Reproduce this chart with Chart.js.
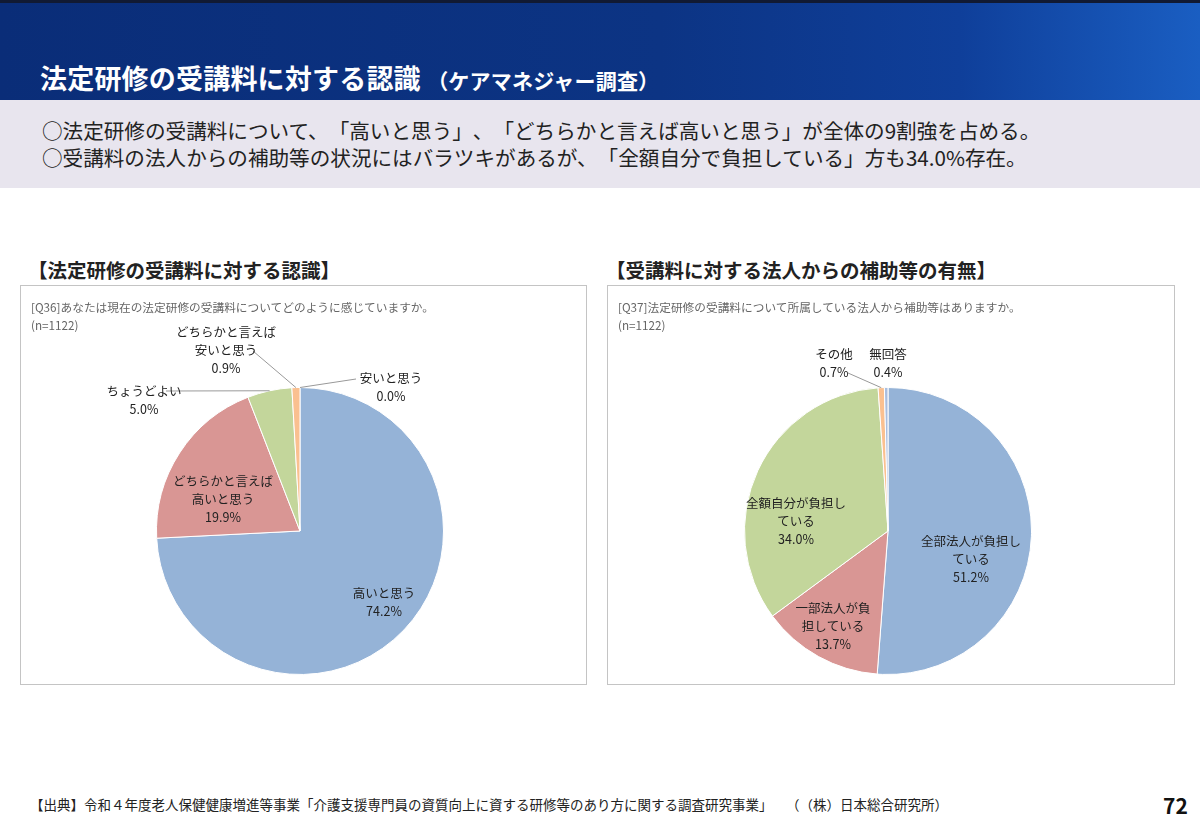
<!DOCTYPE html>
<html lang="ja">
<head>
<meta charset="utf-8">
<script src="https://cdn.jsdelivr.net/npm/chart.js@4.4.1/dist/chart.umd.min.js"></script>
<style>
  html, body { margin: 0; padding: 0; }
  body {
    width: 1200px; height: 823px; position: relative; overflow: hidden;
    background: #fff;
    font-family: "Noto Sans CJK JP", "Noto Sans", sans-serif;
    color: #222;
    text-spacing-trim: space-all;
  }
  .header {
    position: absolute; left: 0; top: 0; width: 1200px; height: 100px;
    background: linear-gradient(90deg, #0a2d78 0%, #0c3484 55%, #0f3f9a 80%, #1a5ec2 100%);
    border-top: 3px solid #111a33;
    box-sizing: border-box;
  }
  .header h1 {
    position: absolute; left: 40px; top: 57px; margin: 0;
    color: #fff; font-size: 27px; font-weight: 700; line-height: 36px; letter-spacing: 0.2px;
  }
  .header h1 small { font-size: 21px; font-weight: 700; }
  .summary {
    position: absolute; left: 0; top: 100px; width: 1200px; height: 88px;
    background: #e8e5ee;
  }
  .summary p { margin: 0; position: absolute; left: 42px; font-size: 20.6px; line-height: 26px; color: #222; white-space: nowrap; }
  .sec { position: absolute; top: 257px; font-size: 19.5px; font-weight: 700; color: #222; line-height: 26px; }
  .box {
    position: absolute; top: 285px; height: 400px;
    border: 1px solid #c4c4c4; box-sizing: border-box; background: #fff;
  }
  .box canvas { position: absolute; left: 0; top: 0; }
  .q { position: absolute; left: 10px; top: 12px; font-size: 11.7px; line-height: 18px; color: #666; z-index: 2; }
  .foot { position: absolute; left: 30px; top: 794px; font-size: 13.5px; color: #222; white-space: nowrap; }
  .page { position: absolute; left: 1163px; top: 790px; font-size: 21px; font-weight: 700; color: #111; }
</style>
</head>
<body>
<div class="header"><h1>法定研修の受講料に対する認識 <small>（ケアマネジャー調査）</small></h1></div>
<div class="summary">
  <p style="top:17px">○法定研修の受講料について、「高いと思う」、「どちらかと言えば高いと思う」が全体の9割強を占める。</p>
  <p style="top:44px">○受講料の法人からの補助等の状況にはバラツキがあるが、「全額自分で負担している」方も34.0%存在。</p>
</div>

<div class="sec" style="left:28px">【法定研修の受講料に対する認識】</div>
<div class="sec" style="left:606px">【受講料に対する法人からの補助等の有無】</div>

<div class="box" style="left:20px;width:567px">
  <div class="q">[Q36]あなたは現在の法定研修の受講料についてどのように感じていますか。<br>(n=1122)</div>
  <canvas id="leftPie" width="567" height="400"></canvas>
</div>
<div class="box" style="left:607px;width:568px">
  <div class="q">[Q37]法定研修の受講料について所属している法人から補助等はありますか。<br>(n=1122)</div>
  <canvas id="rightPie" width="568" height="400"></canvas>
</div>

<div class="foot">【出典】令和４年度老人保健健康増進等事業「介護支援専門員の資質向上に資する研修等のあり方に関する調査研究事業」　（（株）日本総合研究所）</div>
<div class="page">72</div>

<script>
// Q36 data
const q36Labels = ["高いと思う", "どちらかと言えば\n高いと思う", "ちょうどよい", "どちらかと言えば\n安いと思う", "安いと思う"];
const q36Values = [74.2, 19.9, 5.0, 0.9, 0.0];

// Q37 data
const q37Labels = ["全部法人が負担し\nている", "一部法人が負\n担している", "全額自分が負担し\nている", "その他", "無回答"];
const q37Values = [51.2, 13.7, 34.0, 0.7, 0.4];

const sliceColors = ["#95b3d7", "#d99694", "#c3d69b", "#fac090", "#a9bedf"];

// label placement (offset of text block centre from pie centre, optional leader line start)
const q36Layout = [
  { dx: 84, dy: 71 },
  { dx: -77, dy: -32 },
  { dx: -156, dy: -131, lx: -134, ly: -140 },
  { dx: -74, dy: -181, lx: -47, ly: -180 },
  { dx: 91, dy: -144, lx: 56, ly: -152 }
];
const q37Layout = [
  { dx: 83, dy: 28 },
  { dx: -55, dy: 95 },
  { dx: -92, dy: -10 },
  { dx: -54, dy: -168, lx: -40, ly: -158 },
  { dx: 0, dy: -168 }
];

const pieLabels = {
  id: "pieLabels",
  afterDatasetsDraw(chart, args, opts) {
    const ctx = chart.ctx;
    const meta = chart.getDatasetMeta(0);
    const values = chart.data.datasets[0].data;
    ctx.save();
    ctx.font = "12.5px 'Noto Sans CJK JP'";
    ctx.fillStyle = "#222";
    ctx.textAlign = "center";
    ctx.textBaseline = "middle";
    meta.data.forEach((arc, i) => {
      const p = arc.getProps(["x", "y", "startAngle", "endAngle", "outerRadius"], true);
      const lay = opts.layout[i];
      const lines = chart.data.labels[i].split("\n").concat([values[i].toFixed(1) + "%"]);
      const lh = 18;
      const cx = p.x + lay.dx, cy = p.y + lay.dy;
      if (lay.lx !== undefined) {
        const mid = (p.startAngle + p.endAngle) / 2;
        ctx.strokeStyle = "#999";
        ctx.lineWidth = 1;
        ctx.beginPath();
        ctx.moveTo(p.x + lay.lx, p.y + lay.ly);
        ctx.lineTo(p.x + Math.cos(mid) * p.outerRadius, p.y + Math.sin(mid) * p.outerRadius);
        ctx.stroke();
      }
      lines.forEach((t, k) => {
        ctx.fillText(t, cx, cy + (k - (lines.length - 1) / 2) * lh);
      });
    });
    ctx.restore();
  }
};

function makePie(id, labels, values, layout, pad) {
  return new Chart(document.getElementById(id), {
    type: "pie",
    data: {
      labels: labels,
      datasets: [{ data: values, backgroundColor: sliceColors, borderColor: "#ffffff", borderWidth: 1 }]
    },
    options: {
      responsive: false,
      animation: false,
      layout: { padding: pad },
      plugins: {
        legend: { display: false },
        tooltip: { enabled: false },
        pieLabels: { layout: layout }
      }
    },
    plugins: [pieLabels]
  });
}

makePie("leftPie", q36Labels, q36Values, q36Layout, { left: 135, right: 144, top: 101, bottom: 11 });
makePie("rightPie", q37Labels, q37Values, q37Layout, { left: 136, right: 144, top: 101, bottom: 11 });
</script>
</body>
</html>
